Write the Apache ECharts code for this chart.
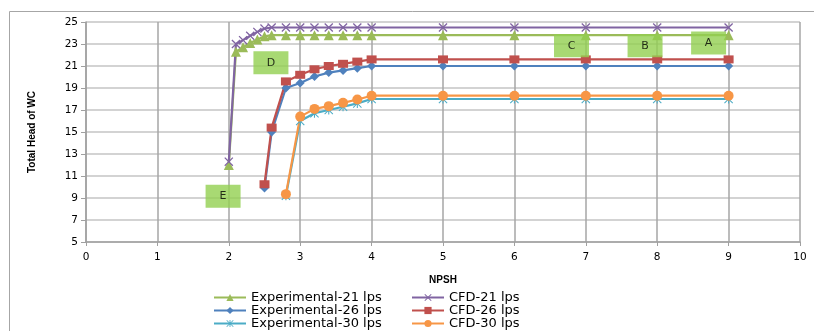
<!DOCTYPE html>
<html>
<head>
<meta charset="utf-8">
<script src="https://cdn.jsdelivr.net/npm/echarts@6/dist/echarts.min.js"></script>
<style>
  html, body { margin: 0; padding: 0; background: #fff; }
  #chart { width: 814px; height: 331px; }
</style>
</head>
<body>
<div id="chart"></div>
<script>
// NPSH values and heads
const exp21X = [2, 2.1, 2.2, 2.3, 2.4, 2.5, 2.6, 2.8, 3.0, 3.2, 3.4, 3.6, 3.8, 4, 5, 6, 7, 8, 9];
const exp21Y = [12.0, 22.3, 22.7, 23.1, 23.4, 23.7, 23.8, 23.8, 23.8, 23.8, 23.8, 23.8, 23.8, 23.8, 23.8, 23.8, 23.8, 23.8, 23.8];

const cfd21X = [2, 2.1, 2.2, 2.3, 2.4, 2.5, 2.6, 2.8, 3.0, 3.2, 3.4, 3.6, 3.8, 4, 5, 6, 7, 8, 9];
const cfd21Y = [12.3, 23.0, 23.35, 23.75, 24.1, 24.4, 24.5, 24.5, 24.5, 24.5, 24.5, 24.5, 24.5, 24.5, 24.5, 24.5, 24.5, 24.5, 24.5];

const exp26X = [2.5, 2.6, 2.8, 3.0, 3.2, 3.4, 3.6, 3.8, 4, 5, 6, 7, 8, 9];
const exp26Y = [9.9, 15.0, 19.0, 19.45, 20.05, 20.4, 20.6, 20.8, 21.0, 21.0, 21.0, 21.0, 21.0, 21.0];

const cfd26X = [2.5, 2.6, 2.8, 3.0, 3.2, 3.4, 3.6, 3.8, 4, 5, 6, 7, 8, 9];
const cfd26Y = [10.25, 15.4, 19.6, 20.2, 20.7, 21.0, 21.2, 21.4, 21.6, 21.6, 21.6, 21.6, 21.6, 21.6];

const exp30X = [2.8, 3.0, 3.2, 3.4, 3.6, 3.8, 4, 5, 6, 7, 8, 9];
const exp30Y = [9.2, 16.0, 16.7, 17.0, 17.3, 17.6, 18.0, 18.0, 18.0, 18.0, 18.0, 18.0];

const cfd30X = [2.8, 3.0, 3.2, 3.4, 3.6, 3.8, 4, 5, 6, 7, 8, 9];
const cfd30Y = [9.35, 16.4, 17.1, 17.35, 17.65, 17.95, 18.3, 18.3, 18.3, 18.3, 18.3, 18.3];

// region labels placed in data space
const boxNames = ['A', 'B', 'C', 'D', 'E'];
const boxX = [8.72, 7.83, 6.8, 2.59, 1.92];
const boxY = [23.08, 22.85, 22.85, 21.3, 9.17];

const pair = (xs, ys) => xs.map((x, i) => [x, ys[i]]);

const crossPath = 'path://M0,1L1,0L5,4L9,0L10,1L6,5L10,9L9,10L5,6L1,10L0,9L4,5Z';
const starPath = 'path://M0,0.8L0.8,0L5,4.2L9.2,0L10,0.8L5.8,5L10,9.2L9.2,10L5,5.8L0.8,10L0,9.2L4.2,5Z' +
  'M4.4,0L5.6,0L5.6,4.4L5.6,5.6L5.6,10L4.4,10Z';

function lineSeries(name, data, color, symbol, size) {
  return {
    name: name,
    type: 'line',
    data: data,
    symbol: symbol,
    symbolSize: size,
    showSymbol: true,
    lineStyle: { color: color, width: 2.2 },
    itemStyle: { color: color },
    emphasis: { disabled: true },
    animation: false
  };
}

const chart = echarts.init(document.getElementById('chart'));

const legendText = { fontFamily: 'DejaVu Sans', fontSize: 13, color: '#000', lineHeight: 13 };
const nameFont = { fontFamily: 'Liberation Sans', fontWeight: 'bold', fontSize: 10, color: '#000' };

chart.setOption({
  backgroundColor: '#fff',
  animation: false,
  graphic: [{
    type: 'rect',
    shape: { x: 9.5, y: 11.5, width: 830, height: 340 },
    style: { fill: 'none', stroke: '#a6a6a6', lineWidth: 1 },
    silent: true
  }],
  grid: { left: 86, right: 14, top: 22, bottom: 89 },
  legend: [{
    orient: 'vertical',
    left: 213,
    top: 291,
    padding: 0,
    itemGap: 0,
    itemWidth: 32,
    itemHeight: 9,
    textStyle: legendText,
    data: ['Experimental-21 lps', 'Experimental-26 lps', 'Experimental-30 lps']
  }, {
    orient: 'vertical',
    left: 411,
    top: 291,
    padding: 0,
    itemGap: 0,
    itemWidth: 32,
    itemHeight: 9,
    textStyle: legendText,
    data: ['CFD-21 lps', 'CFD-26 lps', 'CFD-30 lps']
  }],
  xAxis: {
    type: 'value',
    min: 0,
    max: 10,
    interval: 1,
    name: 'NPSH',
    nameLocation: 'middle',
    nameGap: 33,
    nameTextStyle: nameFont,
    axisLine: { show: true, lineStyle: { color: '#a0a0a0', width: 1.5 } },
    axisTick: { show: true, length: 4, lineStyle: { color: '#a0a0a0' } },
    axisLabel: { fontFamily: 'DejaVu Sans', fontSize: 10.5, color: '#000', margin: 10 },
    splitLine: { show: true, lineStyle: { color: '#a6a6a6', width: 1.5 } }
  },
  yAxis: {
    type: 'value',
    min: 5,
    max: 25,
    interval: 2,
    name: 'Total Head of WC',
    nameLocation: 'middle',
    nameGap: 49,
    nameTextStyle: nameFont,
    axisLine: { show: true, lineStyle: { color: '#a0a0a0', width: 1.5 } },
    axisTick: { show: true, length: 5, lineStyle: { color: '#a0a0a0' } },
    axisLabel: { fontFamily: 'DejaVu Sans', fontSize: 10.5, color: '#000', margin: 8 },
    splitLine: { show: true, lineStyle: { color: '#c4c4c4', width: 1.5 } }
  },
  series: [
    lineSeries('Experimental-21 lps', pair(exp21X, exp21Y), '#9bbb59', 'triangle', 10),
    lineSeries('CFD-21 lps', pair(cfd21X, cfd21Y), '#8064a2', crossPath, 9),
    lineSeries('Experimental-26 lps', pair(exp26X, exp26Y), '#4f81bd', 'diamond', [9, 9]),
    lineSeries('CFD-26 lps', pair(cfd26X, cfd26Y), '#c0504d', 'rect', [10, 8]),
    lineSeries('Experimental-30 lps', pair(exp30X, exp30Y), '#4bacc6', starPath, 9),
    lineSeries('CFD-30 lps', pair(cfd30X, cfd30Y), '#f79646', 'circle', 10),
    {
      name: 'boxes',
      type: 'scatter',
      data: boxNames.map((n, i) => ({ name: n, value: [boxX[i], boxY[i]] })),
      symbol: 'rect',
      symbolSize: [35, 23],
      itemStyle: { color: '#92d050' },
      label: {
        show: true,
        position: 'inside',
        formatter: p => p.name,
        fontFamily: 'DejaVu Sans',
        fontSize: 11,
        color: '#000'
      },
      z: 10,
      silent: true
    }
  ]
});
</script>
</body>
</html>
